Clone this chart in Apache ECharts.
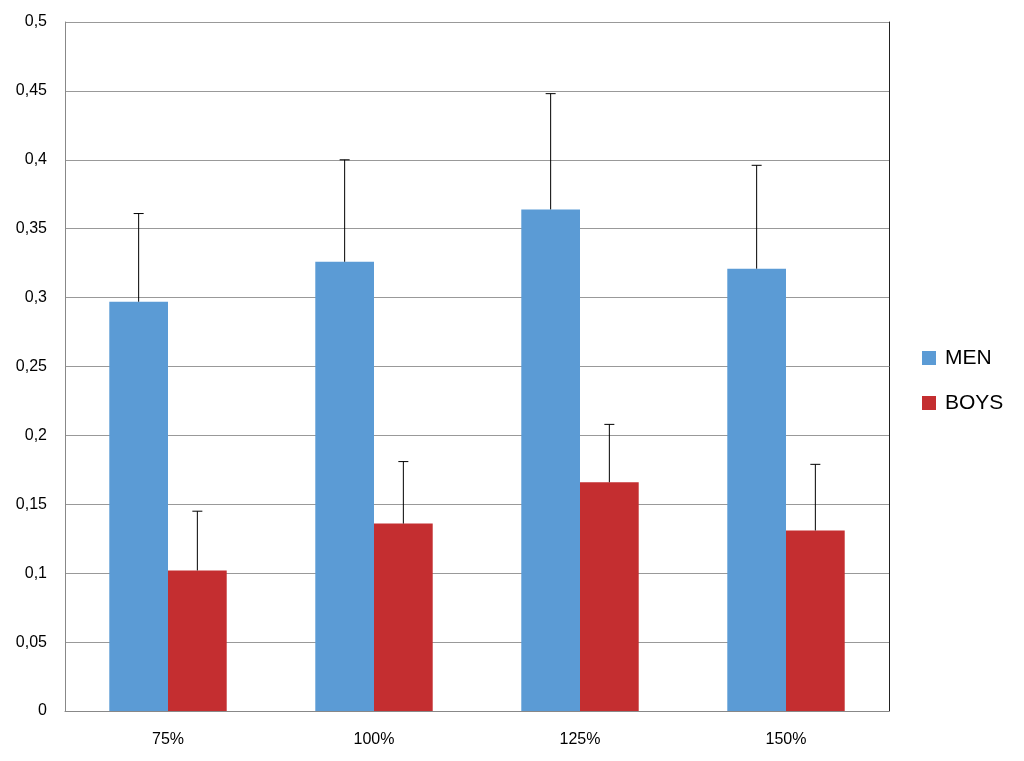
<!DOCTYPE html>
<html><head><meta charset="utf-8">
<script src="https://cdn.jsdelivr.net/npm/echarts@6/dist/echarts.min.js"></script>
<style>html,body{margin:0;padding:0;background:#fff}#c{width:1024px;height:761px}</style>
</head><body><div id="c"></div>
<script>
const categories = ['75%', '100%', '125%', '150%'];
const menValues = [0.297, 0.326, 0.364, 0.321];
const menErrorTop = [0.361, 0.400, 0.448, 0.396];
const boysValues = [0.102, 0.136, 0.166, 0.131];
const boysErrorTop = [0.145, 0.181, 0.208, 0.179];
const yTicks = [0, 0.05, 0.1, 0.15, 0.2, 0.25, 0.3, 0.35, 0.4, 0.45, 0.5];

const chart = echarts.init(document.getElementById('c'));
const FONT = '"Liberation Sans", "Noto Sans", sans-serif';

function errorSeries(name, values, tops, offsetSign) {
  return {
    type: 'custom',
    name: name + '_err',
    data: values.map((v, i) => [i, v, tops[i]]),
    z: 5,
    silent: true,
    renderItem: function (params, api) {
      const idx = api.value(0);
      const base = api.coord([idx, api.value(1)]);
      const top = api.coord([idx, api.value(2)]);
      const bw = api.size([1, 0])[0];
      const barW = bw * 0.57 / 2;
      const x = base[0] + offsetSign * barW / 2;
      return {
        type: 'group',
        children: [
          {type: 'line', shape: {x1: x, y1: base[1], x2: x, y2: top[1]}, style: {stroke: '#000', lineWidth: 1}},
          {type: 'line', shape: {x1: x - 5, y1: top[1], x2: x + 5, y2: top[1]}, style: {stroke: '#000', lineWidth: 1}}
        ]
      };
    }
  };
}

chart.setOption({
  animation: false,
  backgroundColor: '#fff',
  grid: {left: 65, right: 135, top: 22, bottom: 50},
  legend: {
    orient: 'vertical',
    left: 917,
    top: 'middle',
    itemWidth: 14,
    itemHeight: 14,
    itemGap: 24,
    icon: 'rect',
    data: ['MEN', 'BOYS'],
    textStyle: {fontSize: 21, color: '#000', fontFamily: FONT, padding: [0, 0, 0, 4]}
  },
  xAxis: {
    type: 'category',
    data: categories,
    axisTick: {show: false},
    axisLine: {lineStyle: {color: '#888', width: 1}},
    axisLabel: {fontSize: 16, color: '#000', margin: 21, fontFamily: FONT}
  },
  yAxis: [{
    type: 'value',
    min: 0, max: 0.5, interval: 0.05,
    axisLine: {show: true, lineStyle: {color: '#888'}},
    axisTick: {show: false},
    splitLine: {lineStyle: {color: '#999', width: 1}},
    axisLabel: {
      fontSize: 16, color: '#000', margin: 18, fontFamily: FONT,
      formatter: v => {
        const t = yTicks.find(k => Math.abs(k - v) < 1e-9);
        return String(t !== undefined ? t : v).replace('.', ',');
      }
    }
  }, {
    type: 'value',
    min: 0, max: 0.5, interval: 0.05,
    position: 'right',
    axisLine: {show: true, lineStyle: {color: '#222'}},
    axisTick: {show: false},
    axisLabel: {show: false},
    splitLine: {show: false}
  }],
  series: [
    {name: 'MEN', type: 'bar', data: menValues, itemStyle: {color: '#5B9BD5'}, barGap: '0%', barCategoryGap: '43%'},
    {name: 'BOYS', type: 'bar', data: boysValues, itemStyle: {color: '#C42E30'}},
    errorSeries('MEN', menValues, menErrorTop, -1),
    errorSeries('BOYS', boysValues, boysErrorTop, 1)
  ]
});
</script></body></html>
